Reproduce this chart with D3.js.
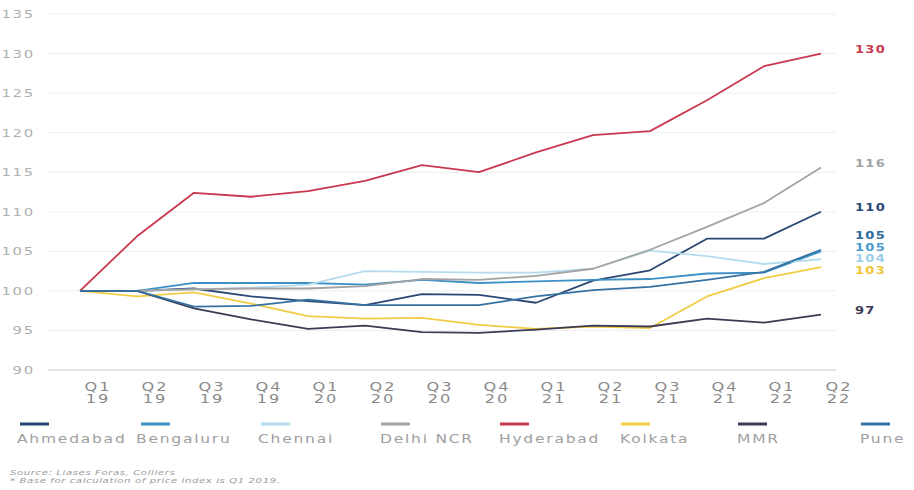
<!DOCTYPE html>
<html>
<head>
<meta charset="utf-8">
<script src="https://cdn.jsdelivr.net/npm/d3@7"></script>
<style>
  html, body { margin: 0; padding: 0; background: #fff; }
  svg { display: block; font-family: "DejaVu Sans", Verdana, sans-serif; }
</style>
</head>
<body>
<svg id="chart" width="914" height="490"></svg>
<script>
// Housing price index by city (Q1 2019 = 100)
const quarters = ["Q1 19","Q2 19","Q3 19","Q4 19","Q1 20","Q2 20","Q3 20","Q4 20",
                  "Q1 21","Q2 21","Q3 21","Q4 21","Q1 22","Q2 22"];
const cities = ["Ahmedabad","Bengaluru","Chennai","Delhi NCR","Hyderabad","Kolkata","MMR","Pune"];
const colors = ["#2b4773","#3d90c6","#b3dcee","#a3a3a3","#c9384f","#f1cd45","#3b3b55","#3572a3"];
const labelColors = ["#2b4773","#4a9bd1","#9ccfe6","#a3a3a3","#c9384f","#efc53a","#3b3b55","#2f6a9c"];

const ahmedabad = [100, 100, 100.3, 99.3, 98.7, 98.2, 99.6, 99.5, 98.5, 101.3, 102.6, 106.6, 106.6, 110];
const bengaluru = [100, 100, 101.0, 101.0, 101.0, 100.8, 101.4, 101.0, 101.2, 101.4, 101.5, 102.2, 102.3, 105.0];
const chennai   = [100, 100, 100.2, 100.4, 100.8, 102.5, 102.4, 102.3, 102.3, 102.8, 105.1, 104.4, 103.4, 104];
const delhiNcr  = [100, 100, 100.2, 100.3, 100.3, 100.6, 101.5, 101.4, 101.9, 102.8, 105.2, 108.1, 111.1, 115.6];
const hyderabad = [100, 106.9, 112.4, 111.9, 112.6, 113.9, 115.9, 115.0, 117.5, 119.7, 120.2, 124.1, 128.4, 130];
const kolkata   = [100, 99.3, 99.8, 98.4, 96.8, 96.5, 96.6, 95.7, 95.2, 95.5, 95.3, 99.3, 101.6, 103];
const mmr       = [100, 100, 97.8, 96.4, 95.2, 95.6, 94.8, 94.7, 95.1, 95.6, 95.5, 96.5, 96.0, 97];
const pune      = [100, 100, 98.0, 98.1, 98.9, 98.2, 98.2, 98.2, 99.3, 100.1, 100.5, 101.4, 102.4, 105.2];
const seriesValues = [ahmedabad, bengaluru, chennai, delhiNcr, hyderabad, kolkata, mmr, pune];

const yTicks = [90, 95, 100, 105, 110, 115, 120, 125, 130, 135];
const sourceLines = ["Source: Liases Foras, Colliers",
                     "* Base for calculation of price index is Q1 2019."];

// the typeface is set wide; a horizontal stretch on text gives that look
const SX = 1.35;

const svg = d3.select("#chart");
const x = d3.scalePoint().domain(quarters).range([80, 821]);
const y = d3.scaleLinear().domain([90, 135]).range([370, 14]);

// gridlines
svg.append("g").selectAll("line").data(yTicks).join("line")
  .attr("x1", 48).attr("x2", 836)
  .attr("y1", d => y(d)).attr("y2", d => y(d))
  .attr("stroke", d => d === 90 ? "#c8c8c8" : "#eeeeee")
  .attr("stroke-width", 1);

// y axis labels
const yAxis = svg.append("g").attr("transform", "translate(35,0)")
  .call(d3.axisLeft(y).tickValues(yTicks).tickSize(0).tickPadding(0));
yAxis.select(".domain").remove();
yAxis.selectAll("text")
  .attr("fill", "#b0b0b0").attr("font-size", 11).attr("letter-spacing", "1.3px")
  .attr("transform", `scale(${SX},1)`)
  .style("font-family", "'DejaVu Sans', sans-serif");

// x axis labels, two lines each
const xl = svg.append("g").selectAll("text").data(quarters).join("text")
  .attr("text-anchor", "middle")
  .attr("fill", "#8a8a8a").attr("font-size", 12).attr("letter-spacing", "1.5px")
  .attr("transform", d => `translate(${x(d) + 18},0) scale(${SX},1)`);
xl.append("tspan").attr("x", 0).attr("y", 391).text(d => d.split(" ")[0]);
xl.append("tspan").attr("x", 0).attr("y", 403).text(d => d.split(" ")[1]);

// lines
const line = d3.line().x((d, i) => x(quarters[i])).y(d => y(d));
svg.append("g").attr("fill", "none").selectAll("path").data(cities).join("path")
  .attr("d", (c, i) => line(seriesValues[i]))
  .attr("stroke", (c, i) => colors[i])
  .attr("stroke-width", 1.8)
  .attr("stroke-linejoin", "round");

// end labels, dodged to avoid overlaps
const fmt = d3.format(".0f");
const ends = cities.map((c, i) => ({ i, v: seriesValues[i][quarters.length - 1] }))
  .sort((a, b) => b.v - a.v);
ends.forEach(e => e.y = y(e.v) - 4);
const gap = 11.5;
for (let iter = 0; iter < 200; iter++) {
  for (let k = 1; k < ends.length; k++) {
    const a = ends[k - 1], b = ends[k];
    const d = b.y - a.y;
    if (d < gap) { const s = (gap - d) / 2; a.y -= s; b.y += s; }
  }
}
svg.append("g").selectAll("text").data(ends).join("text")
  .attr("transform", e => `translate(855,${e.y}) scale(1.3,1)`)
  .attr("dy", "0.35em")
  .attr("fill", e => labelColors[e.i])
  .attr("font-size", 10).attr("font-weight", "bold").attr("letter-spacing", "1px")
  .text(e => fmt(e.v));

// legend
const legendX = [20, 141, 261, 381, 500, 621, 738, 861];
const textX = [17, 136, 258, 380, 499, 620, 737, 860];
const lg = svg.append("g");
lg.selectAll("rect").data(cities).join("rect")
  .attr("x", (c, i) => legendX[i]).attr("y", 422.5)
  .attr("width", 29).attr("height", 3)
  .attr("fill", (c, i) => colors[i]);
lg.selectAll("text").data(cities).join("text")
  .attr("transform", (c, i) => `translate(${textX[i]},443) scale(${SX},1)`)
  .attr("fill", "#a0a0a0").attr("font-size", 11.5).attr("letter-spacing", "1.3px")
  .text(c => c);

// source note
svg.append("g").selectAll("text").data(sourceLines).join("text")
  .attr("transform", (d, i) => `translate(10,${475 + i * 8}) scale(1.45,1)`)
  .attr("fill", "#9a9a9a").attr("font-size", 7).attr("font-style", "italic")
  .attr("letter-spacing", "0.4px")
  .text(d => d);
</script>
</body>
</html>
